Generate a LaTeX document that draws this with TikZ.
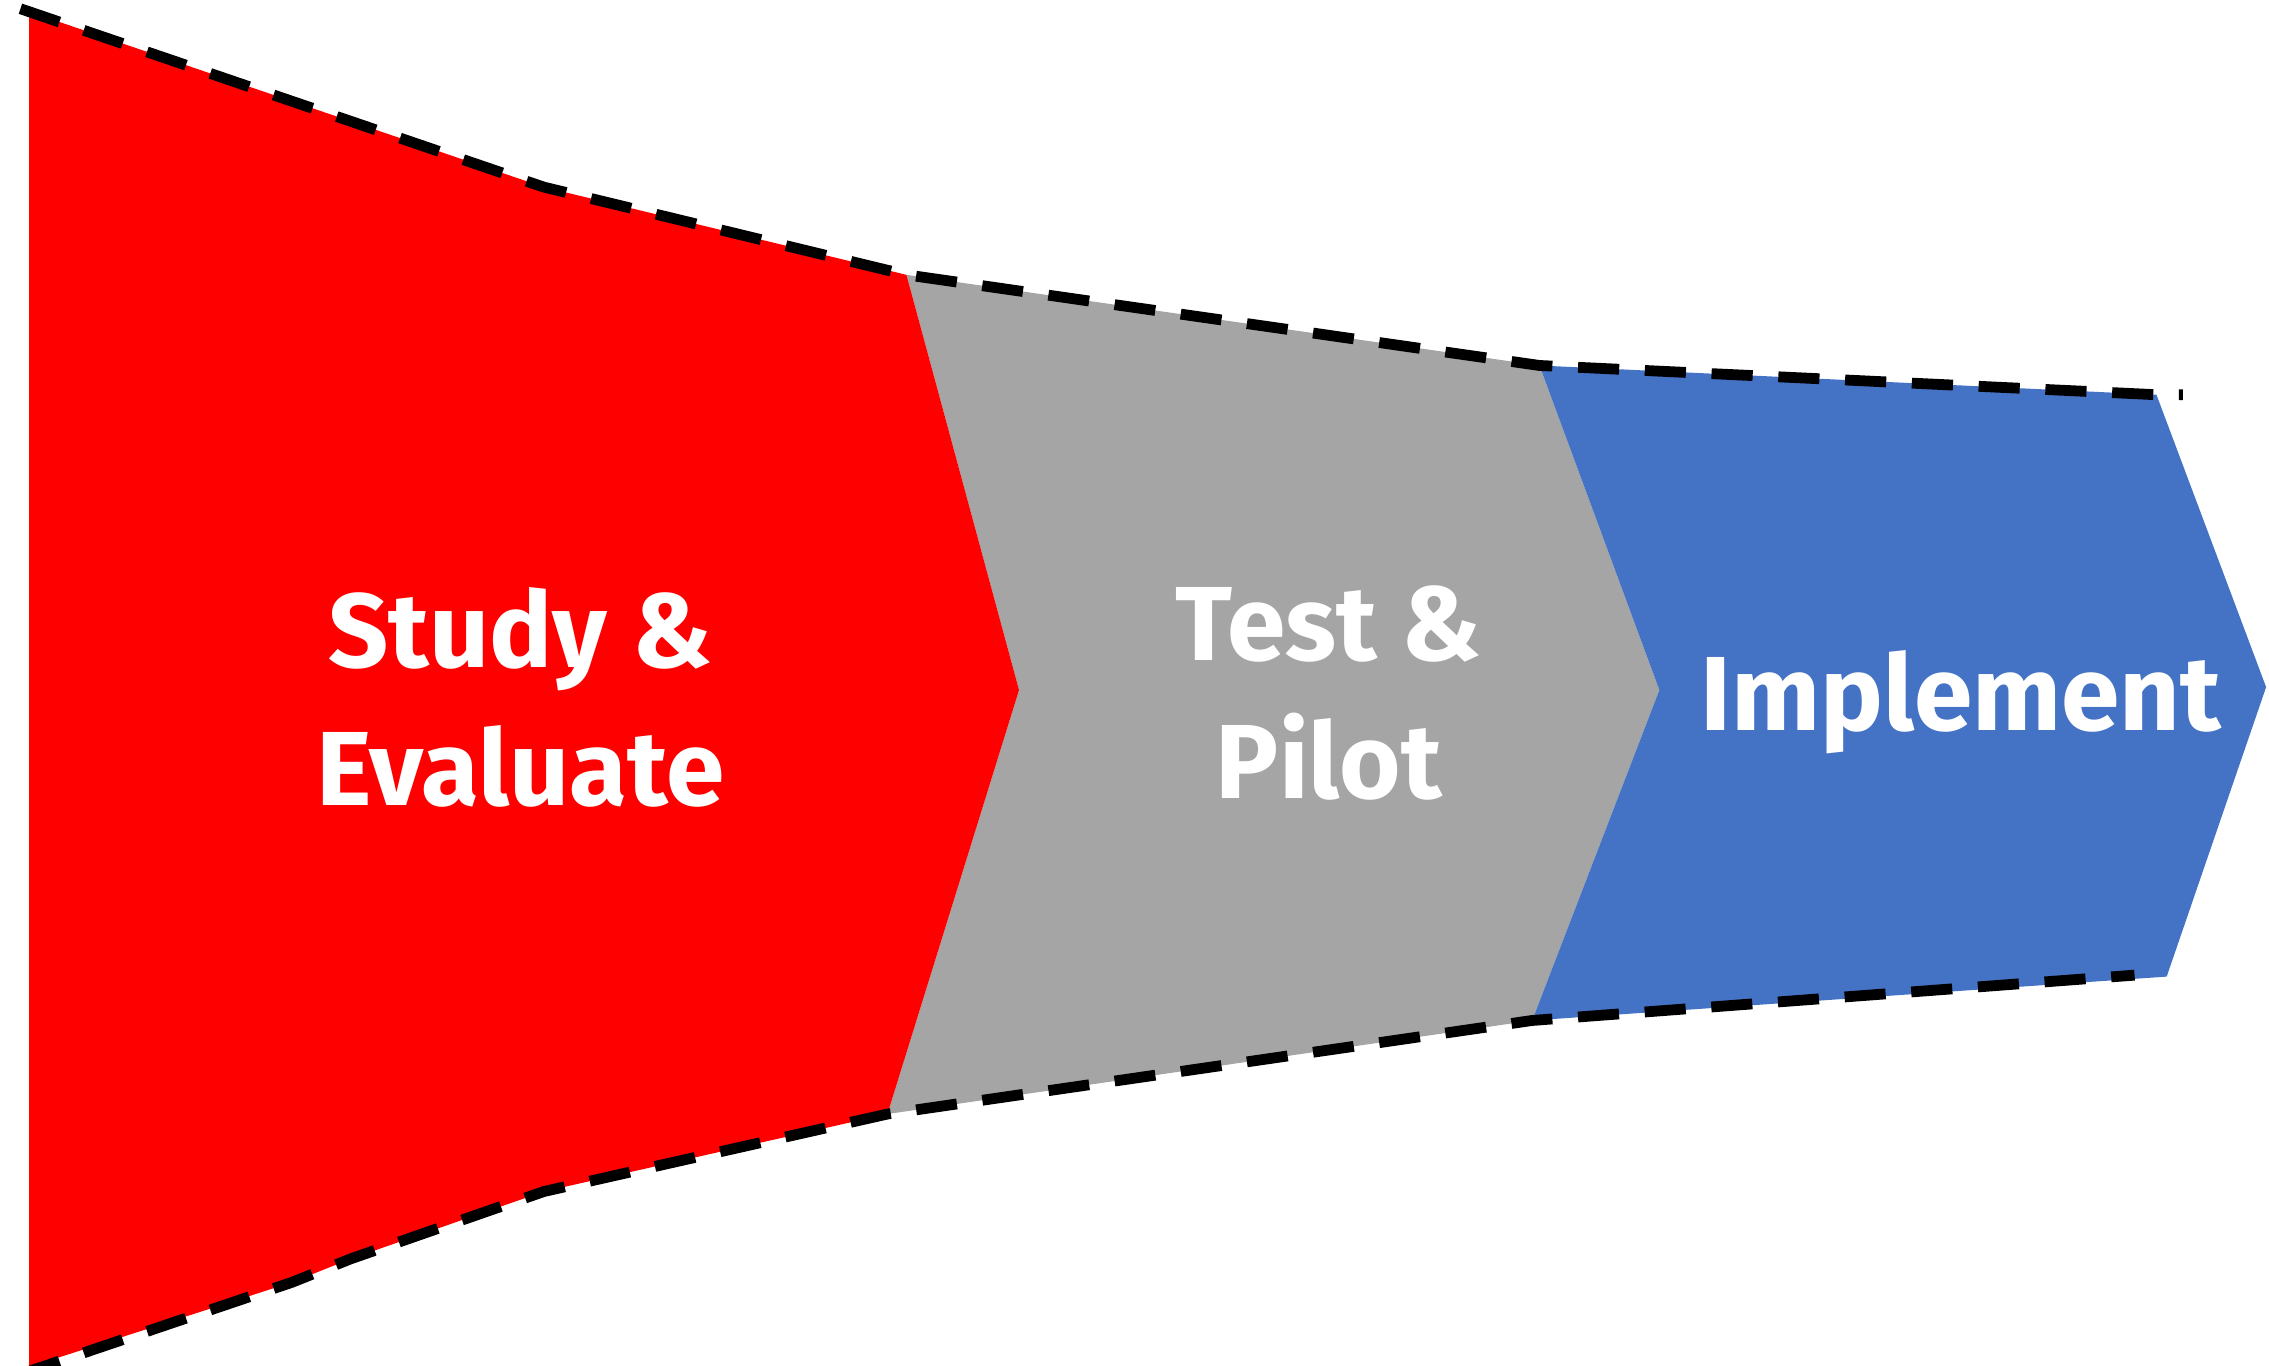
\documentclass[tikz,border=0pt]{standalone}
\usepackage{fontspec}
\setmainfont{Fira Sans}
\usepackage{tikz}
\usetikzlibrary{calc}
\usepackage{xcolor}
\definecolor{stagered}{HTML}{FF0000}
\definecolor{stagegray}{HTML}{A5A5A5}
\definecolor{stageblue}{HTML}{4472C4}
\tikzset{
  stagelabel/.style={text=white, font=\bfseries\fontsize{20.5}{27}\selectfont, align=center},
  funnel/.style={line width=2.1pt, dash pattern=on 8pt off 5pt}
}
\begin{document}
\begin{tikzpicture}[x=0.01cm, y=-0.01cm]
\useasboundingbox (0,0) rectangle (1552,934);

\coordinate (v1) at (20,8);
\coordinate (v2) at (372,128);
\coordinate (v3) at (620,188);
\coordinate (v4) at (697,472);
\coordinate (v5) at (607,762);
\coordinate (v6) at (372,815);
\coordinate (v7) at (240,861);
\coordinate (v8) at (200,877);
\coordinate (v9) at (1053,250);
\coordinate (v10) at (1135,472);
\coordinate (v11) at (1048,698);
\coordinate (v12) at (1475,270);
\coordinate (v13) at (1550,470);
\coordinate (v14) at (1482,668);
\coordinate (v19) at (20,935);
\fill [stagegray] (v3) -- (v9) -- (v10) -- (v11) -- (v5) -- (v4) -- cycle;
\fill [stageblue] (v9) -- (v12) -- (v13) -- (v14) -- (v11) -- (v10) -- cycle;
\fill [stagered] (v1) -- (v2) -- (v3) -- (v4) -- (v5) -- (v6) -- (v7) -- (v8) -- (v19) -- cycle;

\coordinate (v15) at (14,6);
\coordinate (v16) at (1493,270);
\coordinate (v17) at (14,940);
\coordinate (v18) at (1460,667);
\draw [funnel] (v15) -- (v2) -- (v3) -- (v9) -- (v12) -- (v16);
\draw [funnel] (v17) -- (v8) -- (v7) -- (v6) -- (v5) -- (v11) -- (v18);

\node [stagelabel] (s1) at (356,477) {Study \&\\Evaluate};
\node [stagelabel] (s2) at (909,474) {Test \&\\Pilot};
\node [stagelabel, anchor=base] (s3) at (1341,500) {Implement};
\end{tikzpicture}
\end{document}
